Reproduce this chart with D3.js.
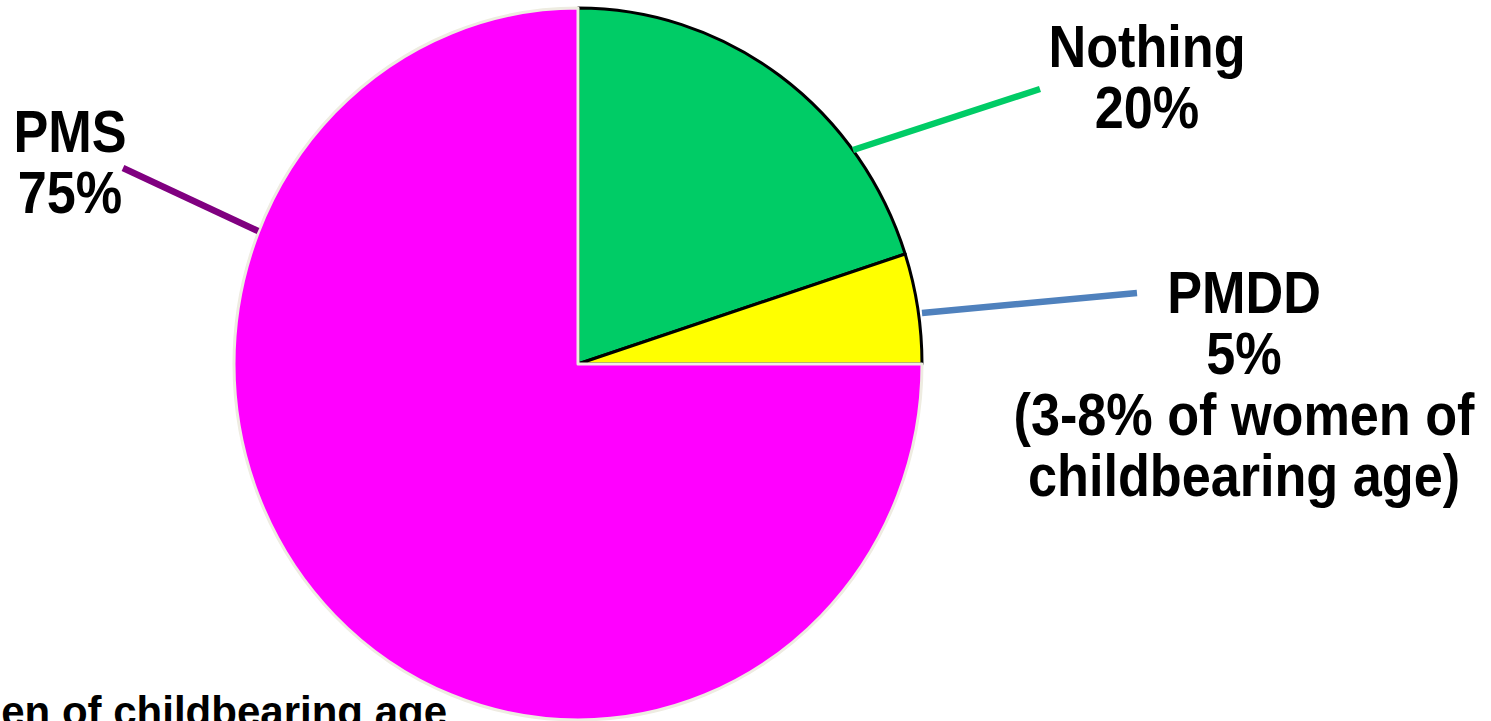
<!DOCTYPE html>
<html>
<head>
<meta charset="utf-8">
<script src="https://cdn.jsdelivr.net/npm/d3@7"></script>
<style>
  html, body { margin: 0; padding: 0; background: #ffffff; }
  svg { display: block; }
</style>
</head>
<body>
<svg id="chart" width="1491" height="721"></svg>
<script>
// Share of women by premenstrual condition
const categories = ["Nothing", "PMDD", "PMS"];
const shares = [20, 5, 75];
const sliceColors = ["#00CC66", "#FFFF00", "#FF00FF"];
const sliceStrokes = ["#000000", "#000000", "#EEECE1"];
const leaderColors = ["#00CC66", "#4F81BD", "#800080"];
const labelLines = [
  ["Nothing", "20%"],
  ["PMDD", "5%", "(3-8% of women of", "childbearing age)"],
  ["PMS", "75%"]
];
const footnote = "women of childbearing age";

const svg = d3.select("#chart");

const cx = 578, cy = 364;
const rx = 344, ry = 356;

const pie = d3.pie().sort(null).value(d => d.value);
const arc = d3.arc().innerRadius(0).outerRadius(rx);

const data = categories.map((c, i) => ({ name: c, value: shares[i], i }));
const arcs = pie(data);

const g = svg.append("g")
  .attr("transform", `translate(${cx},${cy}) scale(1,${ry / rx})`);

g.selectAll("path.slice")
  .data(arcs)
  .join("path")
  .attr("class", "slice")
  .attr("d", arc)
  .attr("fill", d => sliceColors[d.data.i])
  .attr("stroke", d => sliceStrokes[d.data.i])
  .attr("stroke-width", d => d.data.i === 2 ? 3 : 3)
  .attr("stroke-linejoin", "round")
  .attr("vector-effect", "non-scaling-stroke");

// Leader lines from the slice edge to each label
const leaders = [
  { from: [853, 150], to: [1040, 89] },
  { from: [922, 313], to: [1137, 293] },
  { from: [258, 231], to: [123, 168] }
];
svg.selectAll("line.leader")
  .data(leaders)
  .join("line")
  .attr("class", "leader")
  .attr("x1", d => d.from[0]).attr("y1", d => d.from[1])
  .attr("x2", d => d.to[0]).attr("y2", d => d.to[1])
  .attr("stroke", (d, i) => leaderColors[i])
  .attr("stroke-width", 6.5);

// Slice labels, set in a condensed bold face
const labelPos = [
  { x: 1147, y: 67 },
  { x: 1244, y: 313 },
  { x: 70, y: 152 }
];
const lineGap = 61;
const condense = 0.87;
labelLines.forEach((lines, i) => {
  const t = svg.append("g")
    .attr("transform", `translate(${labelPos[i].x},${labelPos[i].y}) scale(${condense},1)`)
    .append("text")
    .attr("text-anchor", "middle")
    .attr("font-family", "'Liberation Sans', Arial, sans-serif")
    .attr("font-weight", "bold")
    .attr("font-size", 60)
    .attr("fill", "#000");
  lines.forEach((s, k) => {
    t.append("tspan")
      .attr("x", 0)
      .attr("y", k * lineGap)
      .text(s);
  });
});

// Footnote running off the bottom edge
svg.append("text")
  .attr("x", 447)
  .attr("y", 726)
  .attr("text-anchor", "end")
  .attr("font-family", "'Liberation Sans', Arial, sans-serif")
  .attr("font-weight", "bold")
  .attr("font-size", 42)
  .attr("fill", "#000")
  .text(footnote);
</script>
</body>
</html>
